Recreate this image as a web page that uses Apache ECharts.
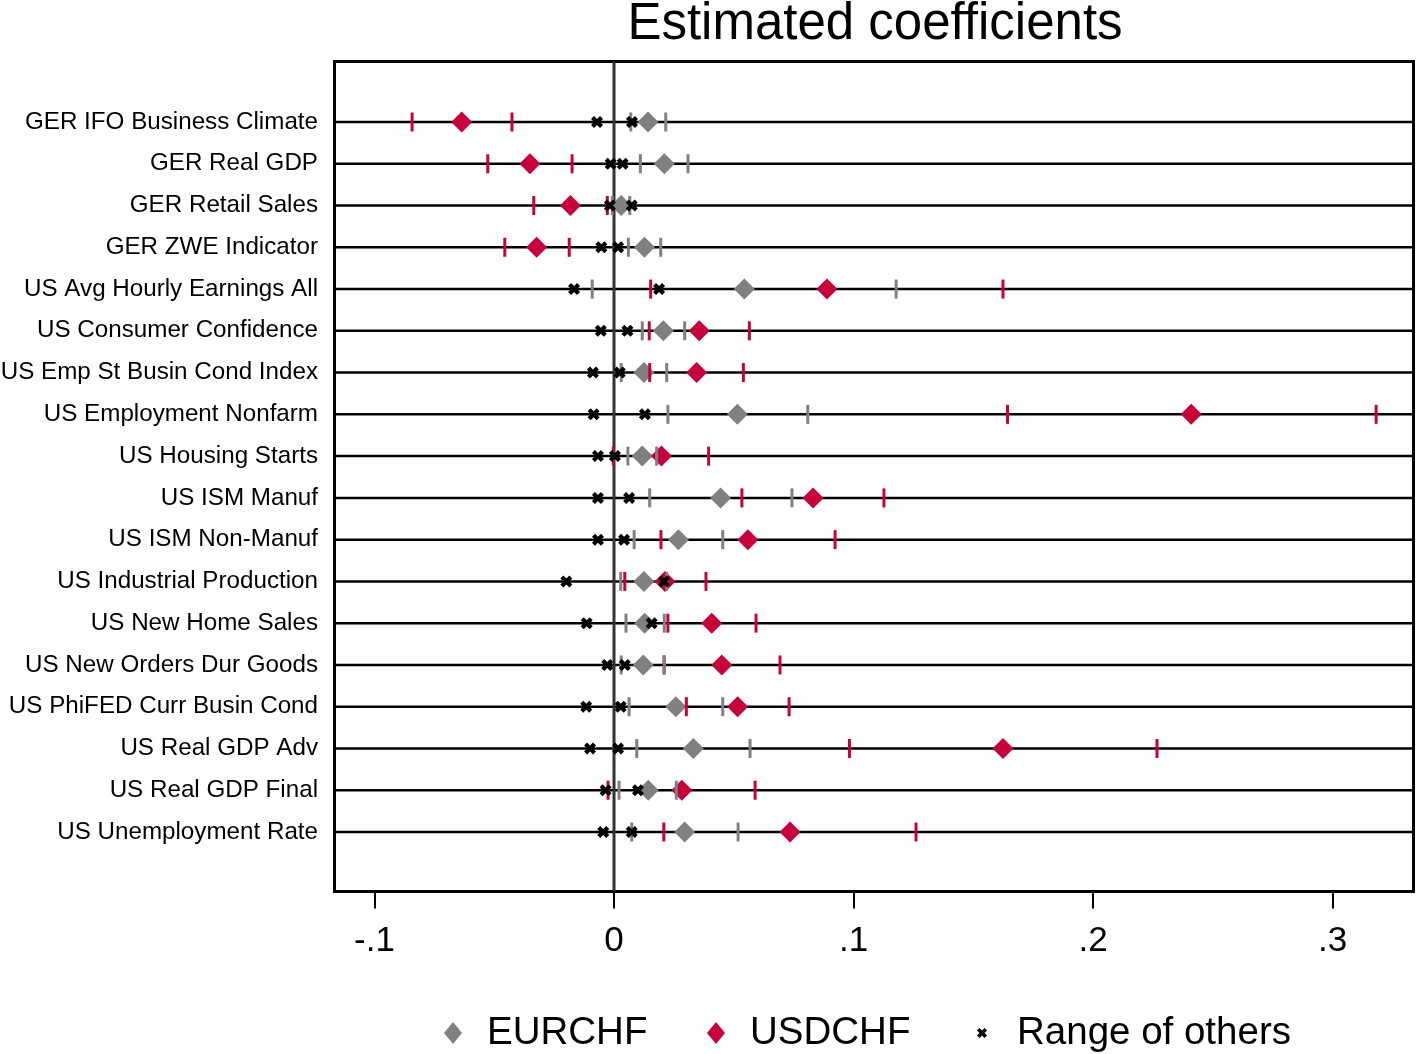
<!DOCTYPE html>
<html>
<head>
<meta charset="utf-8">
<script src="https://cdn.jsdelivr.net/npm/echarts@6/dist/echarts.min.js"></script>
<style>
  html, body { margin: 0; padding: 0; background: #fff; }
  #chart { width: 1416px; height: 1054px; }
</style>
</head>
<body>
<div id="chart"></div>
<script>
const categories = [
  'GER IFO Business Climate', 'GER Real GDP', 'GER Retail Sales', 'GER ZWE Indicator',
  'US Avg Hourly Earnings All', 'US Consumer Confidence', 'US Emp St Busin Cond Index',
  'US Employment Nonfarm', 'US Housing Starts', 'US ISM Manuf', 'US ISM Non-Manuf',
  'US Industrial Production', 'US New Home Sales', 'US New Orders Dur Goods',
  'US PhiFED Curr Busin Cond', 'US Real GDP Adv', 'US Real GDP Final', 'US Unemployment Rate'
];
const eurPoint = [0.0142, 0.0210, 0.0030, 0.0127, 0.0544, 0.0206, 0.0125, 0.0515, 0.0118, 0.0445, 0.0269, 0.0125, 0.0128, 0.0122, 0.0258, 0.0331, 0.0143, 0.0295];
const eurLo    = [0.0070, 0.0110, -0.0007, 0.0060, -0.0091, 0.0118, 0.0030, 0.0225, 0.0058, 0.0149, 0.0084, 0.0028, 0.0050, 0.0030, 0.0063, 0.0095, 0.0021, 0.0074];
const eurHi    = [0.0216, 0.0309, 0.0066, 0.0195, 0.1178, 0.0295, 0.0220, 0.0809, 0.0178, 0.0743, 0.0454, 0.0220, 0.0210, 0.0210, 0.0454, 0.0568, 0.0260, 0.0518];
const usdPoint = [-0.0636, -0.0351, -0.0182, -0.0323, 0.0889, 0.0356, 0.0345, 0.2410, 0.0198, 0.0831, 0.0559, 0.0213, 0.0408, 0.0450, 0.0516, 0.1624, 0.0283, 0.0735];
const usdLo    = [-0.0843, -0.0527, -0.0335, -0.0456, 0.0153, 0.0147, 0.0149, 0.1643, -0.0003, 0.0534, 0.0196, 0.0045, 0.0225, 0.0209, 0.0302, 0.0983, -0.0025, 0.0208];
const usdHi    = [-0.0426, -0.0175, -0.0028, -0.0187, 0.1624, 0.0565, 0.0540, 0.3182, 0.0395, 0.1127, 0.0923, 0.0384, 0.0593, 0.0693, 0.0731, 0.2267, 0.0589, 0.1261];
const othersMin = [-0.0071, -0.0014, -0.0017, -0.0053, -0.0167, -0.0055, -0.0088, -0.0085, -0.0067, -0.0067, -0.0067, -0.0199, -0.0114, -0.0028, -0.0116, -0.0100, -0.0035, -0.0045];
const othersMax = [0.0075, 0.0036, 0.0074, 0.0017, 0.0188, 0.0056, 0.0024, 0.0129, 0.0004, 0.0063, 0.0042, 0.0209, 0.0157, 0.0045, 0.0028, 0.0017, 0.0100, 0.0074];
const xTickValues = [-0.1, 0, 0.1, 0.2, 0.3];
const xTickLabels = ['-.1', '0', '.1', '.2', '.3'];
const zeroLine = [0];

const GRAY = '#808080';
const RED = '#c8003c';
const FONT = 'Liberation Sans, Arial, Helvetica, sans-serif';
const X_PATH = 'path://M0,3 L3,0 L6,3 L9,0 L12,3 L9,6 L12,9 L9,12 L6,9 L3,12 L0,9 L3,6 Z';
const DIAMOND_PATH = 'path://M9,0 L18,11 L9,22 L0,11 Z';

const rows = categories.map((_, i) => i);
const pts = (xs) => xs.map((v, i) => [v, i]);
const pairs = (a, b) => a.map((v, i) => [v, i]).concat(b.map((v, i) => [v, i]));

const legendText = { fontFamily: FONT, fontSize: 38.5, color: '#000', lineHeight: 42 };

const chart = echarts.init(document.getElementById('chart'), null, { renderer: 'canvas' });
chart.setOption({
  animation: false,
  backgroundColor: '#fff',
  title: {
    text: 'Estimated coefficients',
    left: 875, top: -1, textAlign: 'center', padding: 0,
    textStyle: { fontFamily: FONT, fontSize: 51, fontWeight: 'normal', color: '#000' }
  },
  legend: [
    { data: [{ name: 'EURCHF', icon: DIAMOND_PATH, itemStyle: { color: GRAY, opacity: 1 } }], left: 444, top: 1012, itemWidth: 58, itemHeight: 22, padding: 0,
      textStyle: legendText, selectedMode: false },
    { data: [{ name: 'USDCHF', icon: DIAMOND_PATH, itemStyle: { color: RED, opacity: 1 } }], left: 707, top: 1012, itemWidth: 58, itemHeight: 22, padding: 0,
      textStyle: legendText, selectedMode: false },
    { data: [{ name: 'Range of others', icon: X_PATH, itemStyle: { color: '#000', opacity: 1 } }], left: 977, top: 1012, itemWidth: 60, itemHeight: 10, padding: 0,
      textStyle: legendText, selectedMode: false }
  ],
  grid: {
    left: 334.5, right: 2.5, top: 61.5, bottom: 162.5,
    show: true, borderColor: '#000', borderWidth: 3, backgroundColor: 'transparent',
    containLabel: false, outerBoundsMode: 'none'
  },
  xAxis: {
    type: 'value', min: -0.1167, max: 0.3338, position: 'bottom',
    axisLine: { show: false, onZero: false },
    splitLine: { show: false },
    axisTick: { show: true, customValues: xTickValues, length: 17, inside: false, lineStyle: { color: '#000', width: 2 } },
    axisLabel: {
      customValues: xTickValues, margin: 32,
      formatter: (v) => { const k = xTickValues.findIndex(t => Math.abs(t - v) < 1e-9); return k >= 0 ? xTickLabels[k] : ''; },
      fontFamily: FONT, fontSize: 35, color: '#000'
    }
  },
  yAxis: {
    type: 'value', inverse: true, min: -1.4486, max: 18.4247,
    axisLine: { show: false, onZero: false }, axisTick: { show: false }, splitLine: { show: false },
    axisLabel: {
      customValues: rows, margin: 16.5,
      formatter: (v) => categories[Math.round(v)] || '',
      fontFamily: FONT, fontSize: 24.2, color: '#000', padding: [2, 0, 0, 0]
    }
  },
  series: [
    {
      type: 'custom', name: 'rows', silent: true, z: 1,
      data: rows.map(i => [0, i]),
      renderItem: (params, api) => {
        const y = api.coord([0, api.value(1)])[1];
        const cs = params.coordSys;
        return { type: 'line', shape: { x1: cs.x, y1: y, x2: cs.x + cs.width, y2: y }, style: { stroke: '#000', lineWidth: 2.5 } };
      }
    },
    {
      type: 'custom', name: 'zero', silent: true, z: 2,
      data: zeroLine.map(v => [v, 0]),
      renderItem: (params, api) => {
        const x = api.coord([api.value(0), 0])[0];
        const cs = params.coordSys;
        return { type: 'line', shape: { x1: x, y1: cs.y, x2: x, y2: cs.y + cs.height }, style: { stroke: '#333', lineWidth: 3 } };
      }
    },
    {
      name: 'EURCHF', type: 'scatter', z: 3, symbol: 'diamond', symbolSize: 21,
      itemStyle: { color: GRAY, opacity: 1 }, data: pts(eurPoint)
    },
    {
      name: 'USDCHF', type: 'scatter', z: 3, symbol: 'diamond', symbolSize: 21,
      itemStyle: { color: RED, opacity: 1 }, data: pts(usdPoint)
    },
    {
      name: 'USDCHF CI', type: 'scatter', z: 4, symbol: 'rect', symbolSize: [3, 19],
      itemStyle: { color: RED, opacity: 1 }, data: pairs(usdLo, usdHi)
    },
    {
      name: 'EURCHF CI', type: 'scatter', z: 5, symbol: 'rect', symbolSize: [3, 19],
      itemStyle: { color: GRAY, opacity: 1 }, data: pairs(eurLo, eurHi)
    },
    {
      name: 'Range of others', type: 'scatter', z: 6, symbol: X_PATH, symbolSize: 12,
      itemStyle: { color: '#000', opacity: 1 }, data: pairs(othersMin, othersMax)
    }
  ]
});
</script>
</body>
</html>
